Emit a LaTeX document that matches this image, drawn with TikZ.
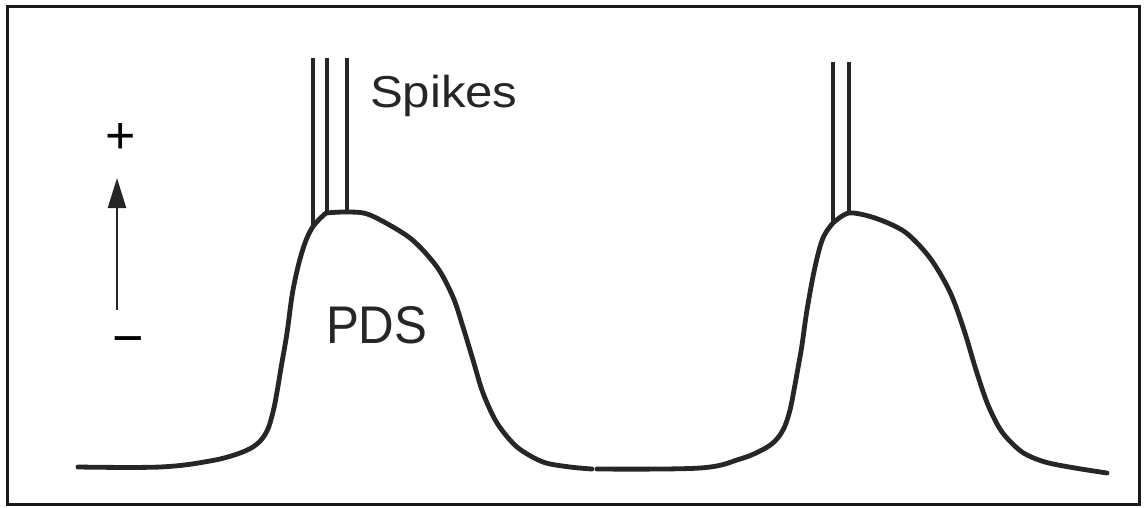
\documentclass[tikz,border=0pt]{standalone}
\usepackage{fontspec}
\setmainfont{Liberation Sans}
\usetikzlibrary{arrows.meta}
\begin{document}
\begin{tikzpicture}[x=1pt,y=-1pt,
  trace/.style={line width=4.8pt,color=black!85,line cap=round,line join=round},
  spike/.style={line width=3.8pt,color=black!85},
  lbl/.style={inner sep=0pt,outer sep=0pt,text=black!85,anchor=base west}]
\useasboundingbox (0,0) rectangle (1144,507);
\draw[line width=3pt,black!90] (7,6) rectangle (1139,504);
% spikes of first burst
\draw[spike] (313,58) -- (313,228);
\draw[spike] (327,58) -- (327,213);
\draw[spike] (347,58) -- (347,213);
% spikes of second burst
\draw[spike] (833,62) -- (833,223);
\draw[spike] (849,62) -- (849,214);
% first PDS
\draw[trace] plot[smooth,tension=0.6] coordinates {(78,467) (160,467) (210,461) (240,453) (257,444) (267,431) (273,412) (277,392) (281,368) (287,333) (293,290) (302,252) (312,228) (326,213)}
  -- plot[smooth,tension=0.5] coordinates {(326,213) (347,212) (370,215) (410,238) (437,267) (453,297) (463,327) (473,360) (483,393) (497,423) (517,447) (543,462) (570,467) (592,469)};
% second PDS
\draw[trace] plot[smooth,tension=0.6] coordinates {(597,469) (700,468) (740,459) (762,450) (775,441) (784,428) (790,410) (794,390) (798,368) (802,345) (807,310) (815,267) (823,238) (833,223)}
  -- plot[smooth,tension=0.5] coordinates {(833,223) (849,213) (875,218) (905,232) (930,258) (950,292) (964,330) (976,370) (988,405) (1002,432) (1022,452) (1045,462) (1075,468) (1107,473)};
% labels
\node[lbl,xscale=1.1] (spikes) at (370,107) {\fontsize{44.7}{50}\selectfont Spikes};
\node[lbl,xscale=0.93] (pds) at (326,343) {\fontsize{53}{60}\selectfont PDS};
% polarity arrow
\node[inner sep=0pt] (plus) at (121,138) {\fontsize{52}{60}\selectfont +};
\node[inner sep=0pt] (minus) at (128,347) {\fontsize{54}{60}\selectfont −};
\coordinate (abot) at (117,310);
\coordinate (atop) at (117,178);
\draw[line width=2.4pt,black!85,-{Triangle[length=30pt,width=18pt]}] (abot) -- (atop);
\end{tikzpicture}
\end{document}
